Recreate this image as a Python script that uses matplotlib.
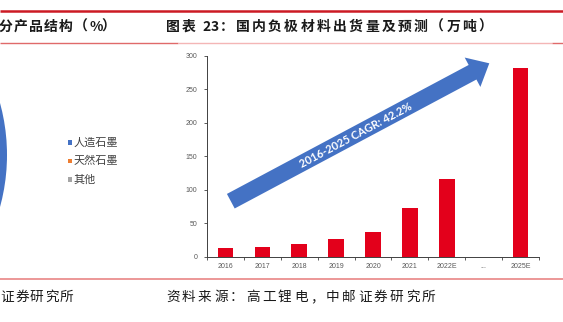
import numpy as np
import matplotlib.pyplot as plt
from matplotlib.patches import FancyArrow, Circle, Rectangle

W, H = 563, 322

# 国内负极材料出货量（万吨）
years = ['2016', '2017', '2018', '2019', '2020', '2021', '2022E', '...', '2025E']
shipments = [12.0, 14.6, 19.2, 26.5, 36.5, 72.0, 116.0, np.nan, 281.0]
y_ticks = [0, 50, 100, 150, 200, 250, 300]
cagr_label = '2016-2025 CAGR: 42.2%'

# 左侧饼图图例
pie_labels = ['人造石墨', '天然石墨', '其他']
pie_colors = ['#4472C4', '#ED7D31', '#A5A5A5']

RED = '#E3001B'
BLUE = '#4472C4'
CJK = ['Noto Sans CJK SC', 'DejaVu Sans']


def is_wide(ch):
	return ord(ch) >= 0x2E80


def spaced_text(ax, x, y, s, wide_step, narrow_step, space_step, **kw):
	# draw character by character to get the wide letter spacing of the report titles
	for ch in s:
		if ch == ' ':
			x += space_step
			continue
		ax.text(x, y, ch, ha='left', va='center', family=CJK, **kw)
		x += wide_step if is_wide(ch) else narrow_step


fig = plt.figure(figsize=(W / 100, H / 100), dpi=100)

#### BAR CHART ####
left, right, top, bottom = 207, 539, 55.7, 256.5
ax = fig.add_axes([left / W, 1 - bottom / H, (right - left) / W, (bottom - top) / H])
x = np.arange(len(years))
ax.bar(x, shipments, width=0.42, color=RED, zorder=2)

ax.set_xlim(-0.5, len(years) - 0.5)
ax.set_ylim(0, 300)
ax.set_yticks(y_ticks)
ax.set_yticklabels([str(v) for v in y_ticks], fontsize=5, color='#595959', family='Liberation Sans')
ax.set_xticks(x)
ax.set_xticklabels(years, fontsize=5, color='#595959', family='Liberation Sans')
ax.set_xticks(np.arange(len(years) + 1) - 0.5, minor=True)
ax.tick_params(axis='x', which='major', length=0, pad=4.4)
ax.tick_params(axis='x', which='minor', length=2, width=0.6, color='#404040', direction='out')
ax.tick_params(axis='y', length=2.4, width=0.6, color='#404040', pad=4.4)
for side in ['top', 'right']:
	ax.spines[side].set_visible(False)
for side in ['left', 'bottom']:
	ax.spines[side].set_color('#404040')
	ax.spines[side].set_linewidth(0.7)

#### PAGE LAYER (pixel coordinates) ####
page = fig.add_axes([0, 0, 1, 1], zorder=3)
page.set_xlim(0, W)
page.set_ylim(H, 0)
page.axis('off')
page.patch.set_visible(False)

# report rules
page.plot([0, W], [11, 11], color='#CC1A24', lw=1.8, solid_capstyle='butt')
page.plot([0, 178], [42.5, 42.5], color='#E06A6A', lw=1.0, solid_capstyle='butt')
page.plot([178, 552], [42.5, 42.5], color='#F4B6B6', lw=1.0, solid_capstyle='butt')
page.plot([552, W], [42.5, 42.5], color='#E06A6A', lw=1.0, solid_capstyle='butt')
page.plot([0, W], [279, 279], color='#E77A7A', lw=1.1, solid_capstyle='butt')

# titles and sources
spaced_text(page, -1, 27, '分产品结构（%）', 15, 12.5, 4, fontsize=10, weight='bold', color='#1A1A1A')
spaced_text(page, 166, 27, '图表 23：国内负极材料出货量及预测（万吨）', 16.2, 8.5, 4,
			fontsize=10, weight='bold', color='#1A1A1A')
spaced_text(page, 0, 297, '证券研究所', 15, 8, 4, fontsize=9.8, color='#1A1A1A')
spaced_text(page, 166, 297, '资料来源：高工锂电，中邮证券研究所', 16, 8, 4, fontsize=9.8, color='#1A1A1A')

# edge of the product-mix pie
page.add_patch(Circle((-190, 155), 197, color=BLUE, lw=0))

# pie legend
for i, (lab, col) in enumerate(zip(pie_labels, pie_colors)):
	yy = 142.7 + i * 18.3
	page.add_patch(Rectangle((67.5, yy - 2.3), 4.6, 4.6, color=col, lw=0))
	page.text(74, yy, lab, fontsize=8, family=CJK, color='#404040', va='center', ha='left')

# growth arrow
tail = (230.8, 201.2)
tip = (489.3, 63.3)
dx, dy = tip[0] - tail[0], tip[1] - tail[1]
page.add_patch(FancyArrow(tail[0], tail[1], dx, dy, width=16.5, head_width=33.3, head_length=19,
						  length_includes_head=True, color=BLUE, lw=0))
angle = np.degrees(np.arctan2(-dy, dx))
page.text(356, 135, cagr_label, rotation=angle, rotation_mode='anchor', ha='center', va='center',
		  fontsize=8, weight='bold', family='Lato', color='white')

fig.savefig('out.png', dpi=100)
